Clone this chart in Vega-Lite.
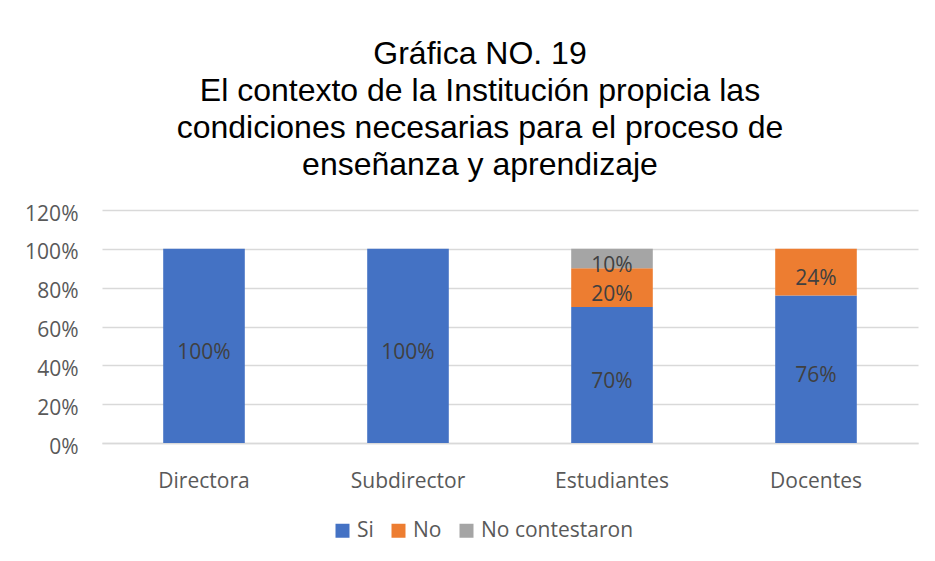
{
  "$schema": "https://vega.github.io/schema/vega-lite/v6.json",
  "width": 816,
  "height": 233,
  "autosize": {"type": "none"},
  "padding": {"left": 102, "top": 210, "right": 17, "bottom": 118},
  "background": "white",
  "title": {
    "text": ["Gráfica NO. 19", "El contexto de la Institución propicia las", "condiciones necesarias para el proceso de", "enseñanza y aprendizaje"],
    "font": "Liberation Sans",
    "fontSize": 32,
    "fontWeight": "normal",
    "color": "#000000",
    "lineHeight": 37,
    "anchor": "middle",
    "dx": -30,
    "offset": 21
  },
  "data": {
    "values": [
      {"grupo": "Directora", "respuesta": "Si", "orden": 1, "valor": 1.0},
      {"grupo": "Subdirector", "respuesta": "Si", "orden": 1, "valor": 1.0},
      {"grupo": "Estudiantes", "respuesta": "Si", "orden": 1, "valor": 0.7},
      {"grupo": "Estudiantes", "respuesta": "No", "orden": 2, "valor": 0.2},
      {"grupo": "Estudiantes", "respuesta": "No contestaron", "orden": 3, "valor": 0.1},
      {"grupo": "Docentes", "respuesta": "Si", "orden": 1, "valor": 0.76},
      {"grupo": "Docentes", "respuesta": "No", "orden": 2, "valor": 0.24}
    ]
  },
  "encoding": {
    "x": {
      "field": "grupo",
      "type": "nominal",
      "sort": ["Directora", "Subdirector", "Estudiantes", "Docentes"],
      "scale": {"paddingInner": 0.6, "paddingOuter": 0.3},
      "axis": {
        "title": null,
        "labelAngle": 0,
        "labelFont": "Open Sans",
        "labelFontSize": 21,
        "labelColor": "#595959",
        "labelPadding": 27,
        "ticks": false,
        "domain": true,
        "domainColor": "#d9d9d9",
        "domainWidth": 1.5,
        "grid": false
      }
    },
    "order": {"field": "orden", "type": "quantitative", "sort": "ascending"}
  },
  "layer": [
    {
      "mark": {"type": "bar"},
      "encoding": {
        "y": {
          "field": "valor",
          "type": "quantitative",
          "stack": "zero",
          "scale": {"domain": [0, 1.2]},
          "axis": {
            "title": null,
            "format": ".0%",
            "values": [0, 0.2, 0.4, 0.6, 0.8, 1.0, 1.2],
            "tickCount": 7,
            "labelOverlap": false,
            "labelFont": "Open Sans",
            "labelFontSize": 21,
            "labelColor": "#595959",
            "labelPadding": 24,
            "labelOffset": 4,
            "ticks": false,
            "domain": false,
            "gridColor": "#d9d9d9",
            "gridWidth": 1.5
          }
        },
        "color": {
          "field": "respuesta",
          "type": "nominal",
          "scale": {"domain": ["Si", "No", "No contestaron"], "range": ["#4472C4", "#ED7D31", "#A5A5A5"]},
          "legend": {
            "title": null,
            "orient": "none",
            "direction": "horizontal",
            "legendX": 230,
            "legendY": 310,
            "symbolType": "square",
            "symbolSize": 196,
            "symbolStrokeWidth": 0,
            "symbolOpacity": 1,
            "labelFont": "Open Sans",
            "labelFontSize": 21,
            "labelColor": "#595959",
            "labelOffset": 4,
            "columnPadding": 14
          }
        }
      }
    },
    {
      "mark": {"type": "text", "font": "Open Sans", "fontSize": 21, "color": "#404040", "baseline": "middle", "dy": 7},
      "encoding": {
        "y": {
          "field": "valor",
          "type": "quantitative",
          "stack": "zero",
          "bandPosition": 0.5,
          "scale": {"domain": [0, 1.2]},
          "axis": {
            "title": null,
            "format": ".0%",
            "values": [0, 0.2, 0.4, 0.6, 0.8, 1.0, 1.2],
            "tickCount": 7,
            "labelOverlap": false,
            "labelFont": "Open Sans",
            "labelFontSize": 21,
            "labelColor": "#595959",
            "labelPadding": 24,
            "labelOffset": 4,
            "ticks": false,
            "domain": false,
            "gridColor": "#d9d9d9",
            "gridWidth": 1.5
          }
        },
        "detail": {"field": "respuesta", "type": "nominal"},
        "text": {"field": "valor", "type": "quantitative", "format": ".0%"}
      }
    }
  ],
  "config": {"view": {"stroke": null}}
}
